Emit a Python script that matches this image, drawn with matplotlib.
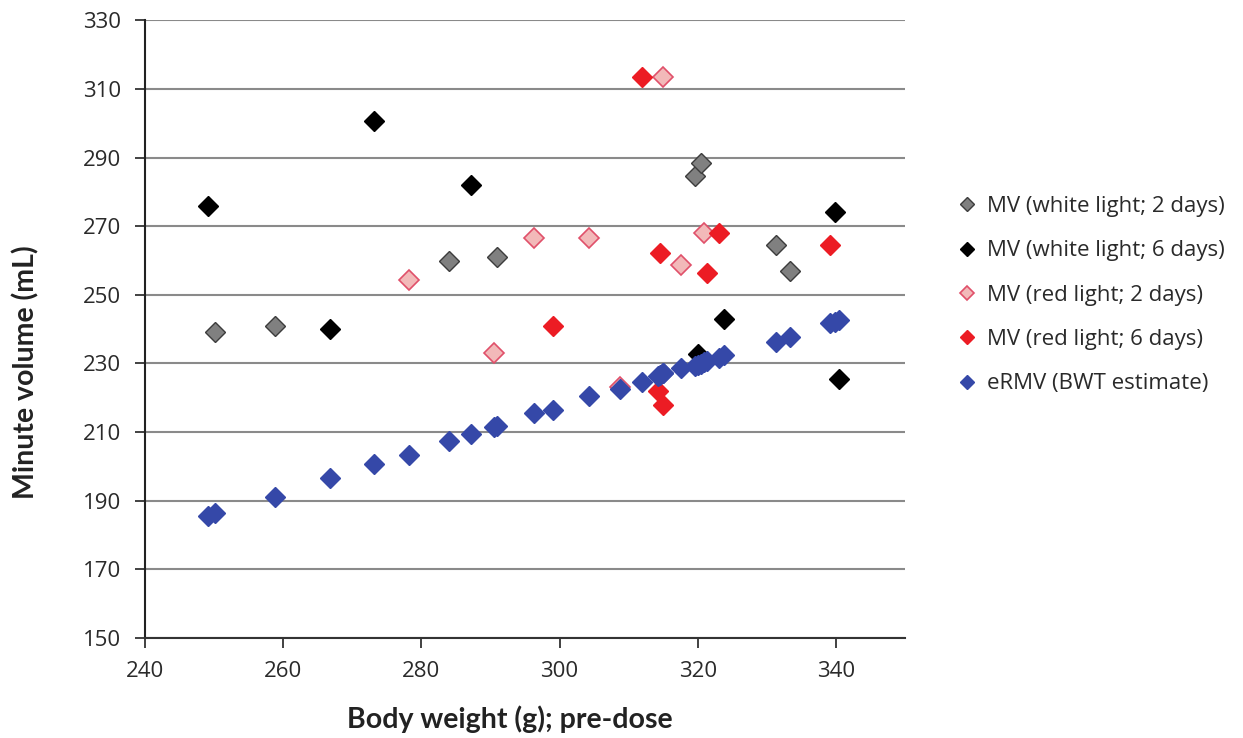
import numpy as np
import matplotlib
matplotlib.use('Agg')
import matplotlib.pyplot as plt

# body weight (g) and minute volume (mL)
bw_white_2d = [250.1, 258.8, 284.0, 290.9, 319.6, 320.4, 331.3, 333.3]
mv_white_2d = [239.2, 240.9, 259.9, 261.1, 284.7, 288.3, 264.5, 257.0]

bw_white_6d = [249.1, 266.7, 273.1, 287.2, 320.0, 323.8, 339.8, 340.4]
mv_white_6d = [275.9, 239.9, 300.7, 281.9, 232.9, 243.1, 274.1, 225.5]

bw_red_2d = [278.2, 290.5, 296.3, 304.3, 308.8, 315.0, 317.6, 320.9]
mv_red_2d = [254.3, 233.1, 266.5, 266.5, 223.0, 313.6, 258.7, 268.1]

bw_red_6d = [299.0, 311.9, 314.2, 315.0, 314.6, 321.4, 323.1, 339.1]
mv_red_6d = [240.9, 313.6, 222.0, 217.8, 262.1, 256.4, 268.1, 264.5]

bw_ermv = [249.1, 250.1, 258.8, 266.7, 273.1, 278.2, 284.0, 287.2,
           290.5, 290.9, 296.3, 299.0, 304.3, 308.8, 311.9, 314.2,
           314.6, 315.0, 315.0, 317.6, 319.6, 320.0, 320.4, 320.9,
           321.4, 323.1, 323.8, 331.3, 333.3, 339.1, 339.8, 340.4]
ermv = [185.6, 186.3, 191.2, 196.5, 200.6, 203.4, 207.5, 209.5,
        211.4, 211.8, 215.7, 216.4, 220.5, 222.6, 224.7, 226.3,
        226.6, 227.1, 227.3, 228.6, 229.4, 229.6, 229.9, 230.3,
        230.6, 231.7, 232.4, 236.2, 237.6, 241.7, 242.1, 242.6]

labels = ['MV (white light; 2 days)', 'MV (white light; 6 days)',
          'MV (red light; 2 days)', 'MV (red light; 6 days)',
          'eRMV (BWT estimate)']

plt.rcParams['font.family'] = ['Open Sans', 'DejaVu Sans']

fig = plt.figure(figsize=(12.43, 7.38), dpi=100)
ax = fig.add_axes([0.1167, 0.1355, 0.6114, 0.837])

ms = 10
ax.plot(bw_white_2d, mv_white_2d, 'D', ms=ms, mfc='#808080', mec='#3c3c3c', mew=1.0, label=labels[0], zorder=3)
ax.plot(bw_white_6d, mv_white_6d, 'D', ms=ms, mfc='#000000', mec='#000000', mew=1.0, label=labels[1], zorder=3)
ax.plot(bw_red_2d, mv_red_2d, 'D', ms=ms, mfc='#f2b9b9', mec='#e0506a', mew=1.2, label=labels[2], zorder=3)
ax.plot(bw_red_6d, mv_red_6d, 'D', ms=ms, mfc='#ec1c24', mec='#ec1c24', mew=1.0, label=labels[3], zorder=3)
ax.plot(bw_ermv, ermv, 'D', ms=ms, mfc='#3548a8', mec='#3548a8', mew=1.0, label=labels[4], zorder=4)

ax.set_xlim(240, 350)
ax.set_ylim(150, 330)
ax.set_xticks(np.arange(240, 341, 20))
ax.set_yticks(np.arange(150, 331, 20))
ax.grid(axis='y', color='#8a8a8a', lw=1.5, zorder=1)
ax.set_axisbelow(True)

ax.spines['top'].set_visible(False)
ax.spines['right'].set_visible(False)
ax.spines['left'].set_color('#222222')
ax.spines['bottom'].set_color('#333333')
ax.spines['left'].set_linewidth(1.5)
ax.spines['bottom'].set_linewidth(1.5)
ax.tick_params(axis='both', direction='out', length=7.5, width=1.3, colors='#333333',
               labelsize=16, labelcolor='#2a2a2a')
ax.tick_params(axis='y', pad=10)
ax.tick_params(axis='x', pad=9)

ax.set_xlabel('Body weight (g); pre-dose', fontsize=20.5, fontweight='bold',
              family='Lato', color='#222222', labelpad=17)
ax.set_ylabel('Minute volume (mL)', fontsize=20.5, fontweight='bold',
              family='Lato', color='#222222', labelpad=31)
ax.xaxis.label.set_x(0.48)
ax.yaxis.label.set_y(0.43)

leg = ax.legend(loc='center left', bbox_to_anchor=(1.04, 0.555), frameon=False,
                fontsize=16, handletextpad=0.4, labelspacing=1.05,
                markerscale=0.75, handlelength=1.0)
for t in leg.get_texts():
    t.set_color('#2a2a2a')

fig.savefig('out.png', dpi=100)
